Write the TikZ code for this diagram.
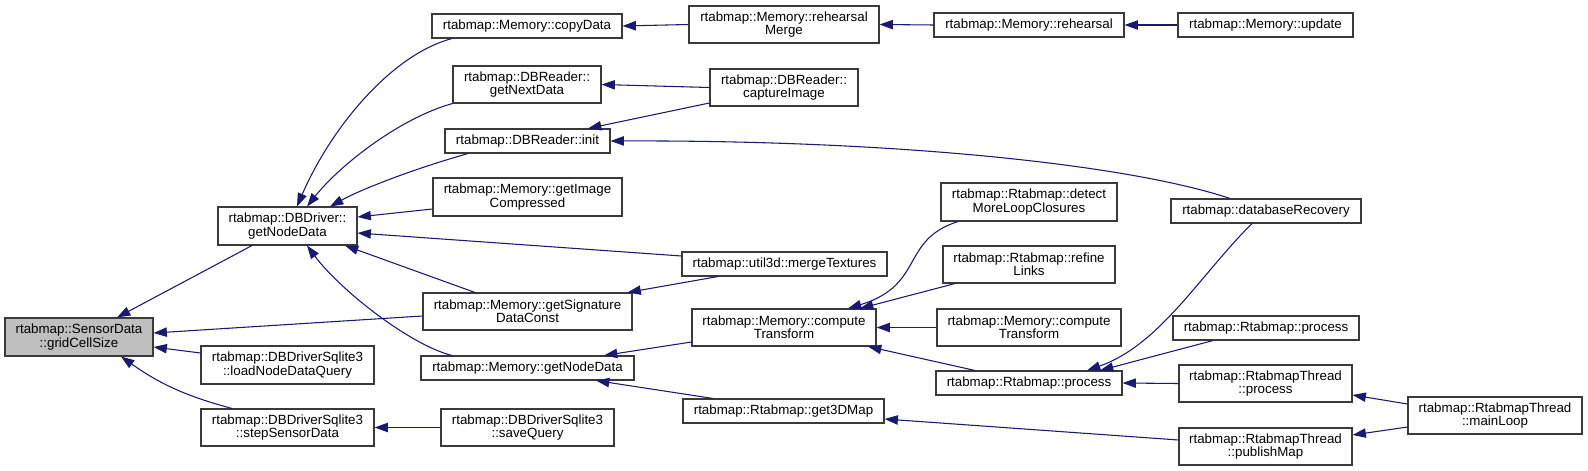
\documentclass[tikz,border=0pt]{standalone}
\usepackage{fontspec}
\setmainfont{Liberation Sans}
\usetikzlibrary{arrows.meta,calc}
\definecolor{edgeblue}{HTML}{191970}
\definecolor{boxline}{HTML}{3A3A3A}
\definecolor{boxfill}{HTML}{BFBFBF}
\newcommand{\mynode}[7][]{\node[box,#1,minimum width={(#5-#3)*0.75pt},minimum height={(#6-#4)*0.75pt}] (#2) at ({(#3+#5)/2},{(#4+#6)/2}) {#7};}
\begin{document}
\begin{tikzpicture}[x=0.75pt,y=-0.75pt,
  box/.style={draw=boxline,line width=0.8pt,fill=white,inner sep=0pt,align=center,font=\fontsize{10pt}{10pt}\selectfont},
  edge/.style={draw=edgeblue,line width=0.8pt,-{Triangle[length=10pt,width=7pt]}}]
\useasboundingbox (0,0) rectangle (1588,471);
\mynode[fill=boxfill]{gcs}{5}{318}{153}{356}{rtabmap::SensorData\\::gridCellSize}
\mynode{dbgnd}{218}{207}{357}{245}{rtabmap::DBDriver::\\getNodeData}
\mynode{loadq}{201}{346}{374}{384}{rtabmap::DBDriverSqlite3\\::loadNodeDataQuery}
\mynode{step}{201}{409}{374}{446}{rtabmap::DBDriverSqlite3\\::stepSensorData}
\mynode{copy}{432}{14}{622}{38}{rtabmap::Memory::copyData}
\mynode{rmerge}{689}{6}{879}{43}{rtabmap::Memory::rehearsal\\Merge}
\mynode{getnext}{453}{66}{601}{103}{rtabmap::DBReader::\\getNextData}
\mynode{capture}{710}{69}{858}{106}{rtabmap::DBReader::\\captureImage}
\mynode{init}{445}{129}{610}{153}{rtabmap::DBReader::init}
\mynode{gimc}{433}{178}{622}{216}{rtabmap::Memory::getImage\\Compressed}
\mynode{merge}{682}{252}{887}{276}{rtabmap::util3d::mergeTextures}
\mynode{gsdc}{423}{293}{632}{330}{rtabmap::Memory::getSignature\\DataConst}
\mynode{ct1}{692}{309}{876}{346}{rtabmap::Memory::compute\\Transform}
\mynode{mgnd}{421}{356}{634}{380}{rtabmap::Memory::getNodeData}
\mynode{g3d}{683}{399}{884}{423}{rtabmap::Rtabmap::get3DMap}
\mynode{save}{441}{409}{614}{446}{rtabmap::DBDriverSqlite3\\::saveQuery}
\mynode{rehearsal}{934}{13}{1124}{37}{rtabmap::Memory::rehearsal}
\mynode{update}{1178}{13}{1353}{37}{rtabmap::Memory::update}
\mynode{detect}{941}{183}{1117}{221}{rtabmap::Rtabmap::detect\\MoreLoopClosures}
\mynode{dbrec}{1171}{199}{1361}{223}{rtabmap::databaseRecovery}
\mynode{refine}{943}{246}{1115}{283}{rtabmap::Rtabmap::refine\\Links}
\mynode{ct2}{937}{309}{1121}{346}{rtabmap::Memory::compute\\Transform}
\mynode{proc}{936}{371}{1122}{395}{rtabmap::Rtabmap::process}
\mynode{rproc}{1173}{316}{1359}{340}{rtabmap::Rtabmap::process}
\mynode{tproc}{1179}{365}{1352}{402}{rtabmap::RtabmapThread\\::process}
\mynode{pub}{1179}{428}{1352}{465}{rtabmap::RtabmapThread\\::publishMap}
\mynode{mainloop}{1408}{397}{1582}{434}{rtabmap::RtabmapThread\\::mainLoop}
% edges
\draw[edge] ($(dbgnd.south)+(-35.5,0)$) -- ($(gcs.north)+(38,0)$);
\draw[edge] ($(gsdc.west)+(0,4.5)$) -- ($(gcs.east)+(0,-4)$);
\draw[edge] ($(loadq.west)+(0,-12)$) -- ($(gcs.east)+(0,10)$);
\draw[edge] ($(step.north)+(-55.5,0)$) to[bend left=10] ($(gcs.south)+(42,0)$);
\draw[edge] ($(copy.south)+(-75,0)$) .. controls (390,55) and (330,130) .. ($(dbgnd.north)+(9.5,0)$);
\draw[edge] (getnext.south west) .. controls (400,118) and (340,165) .. ($(dbgnd.north)+(19.5,0)$);
\draw[edge] ($(init.south)+(-59.5,0)$) .. controls (410,170) and (360,190) .. ($(dbgnd.north)+(42.5,0)$);
\draw[edge] ($(gimc.west)+(0,12)$) -- ($(dbgnd.east)+(0,-9)$);
\draw[edge] ($(merge.west)+(0,-8)$) -- ($(dbgnd.east)+(0,7)$);
\draw[edge] ($(gsdc.north)+(-52.5,0)$) -- ($(dbgnd.south)+(57.5,0)$);
\draw[edge] ($(mgnd.north)+(-75.5,0)$) .. controls (410,345) and (340,290) .. ($(dbgnd.south)+(19.5,0)$);
\draw[edge] (rmerge.west) -- (copy.east);
\draw[edge] (rehearsal.west) -- (rmerge.east);
\draw[edge] (update.west) -- (rehearsal.east);
\draw[edge] (capture.west) -- (getnext.east);
\draw[edge] ($(capture.west)+(0,15.5)$) -- ($(init.north)+(60.5,0)$);
\draw[edge] ($(dbrec.north)+(-36,0)$) .. controls (1130,165) and (900,140) .. (init.east);
\draw[edge] ($(merge.south)+(-66.5,0)$) -- ($(gsdc.north)+(100,0)$);
\draw[edge] ($(ct1.west)+(0,14.5)$) -- ($(mgnd.north)+(76.5,0)$);
\draw[edge] ($(g3d.north)+(-70.5,0)$) -- ($(mgnd.south)+(68.5,0)$);
\draw[edge] (save.west) -- (step.east);
\draw[edge] ($(detect.south)+(-71,0)$) .. controls (900,240) and (925,285) .. ($(ct1.north)+(64,0)$);
\draw[edge] ($(refine.south)+(-74,0)$) -- ($(ct1.north)+(76,0)$);
\draw[edge] (ct2.west) -- (ct1.east);
\draw[edge] ($(proc.north)+(-54,0)$) -- ($(ct1.south)+(84,0)$);
\draw[edge] ($(dbrec.south)+(-14,0)$) .. controls (1200,275) and (1160,345) .. ($(proc.north)+(58,0)$);
\draw[edge] ($(rproc.south)+(-53,0)$) -- ($(proc.north)+(71,0)$);
\draw[edge] (tproc.west) -- (proc.east);
\draw[edge] ($(pub.west)+(0,-6.5)$) -- ($(g3d.east)+(0,8)$);
\draw[edge] ($(mainloop.west)+(0,-11.5)$) -- ($(tproc.east)+(0,11.5)$);
\draw[edge] ($(mainloop.west)+(0,11.5)$) -- ($(pub.east)+(0,-11.5)$);
\end{tikzpicture}
\end{document}
